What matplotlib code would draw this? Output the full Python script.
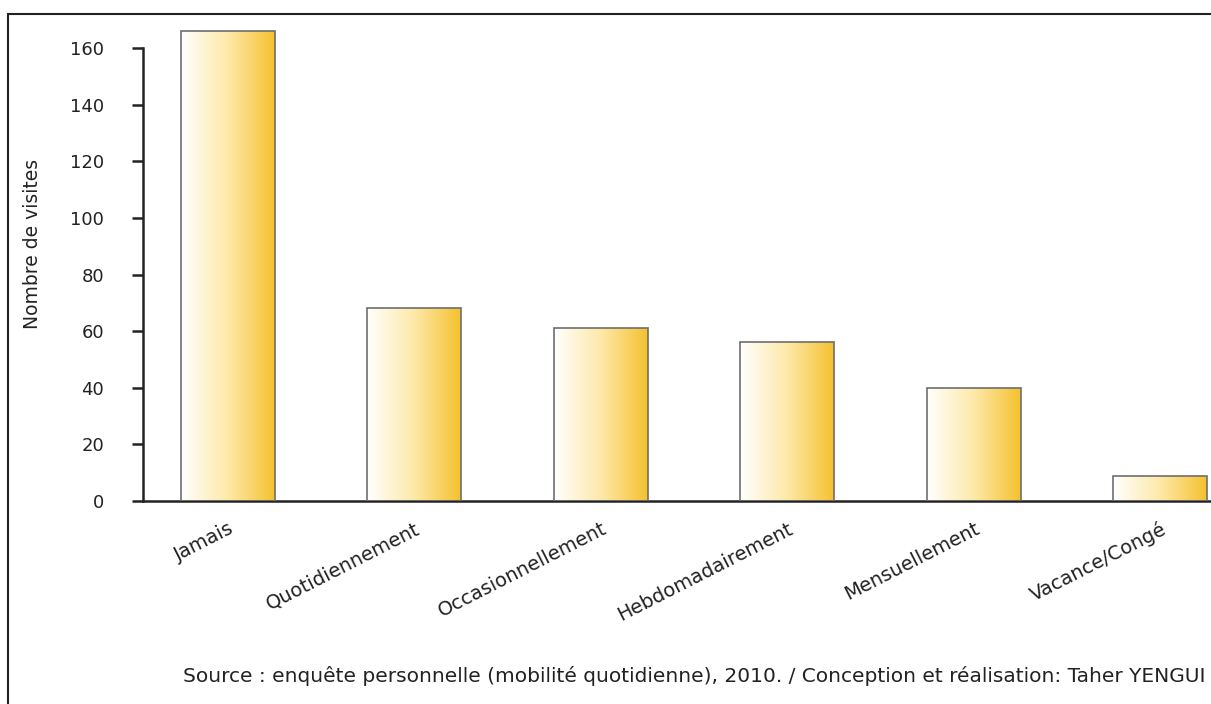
import numpy as np
import matplotlib.pyplot as plt
from matplotlib.patches import Rectangle
from matplotlib.colors import LinearSegmentedColormap

categories = ["Jamais", "Quotidiennement", "Occasionnellement",
              "Hebdomadairement", "Mensuellement", "Vacance/Congé"]
visits = [166, 68, 61, 56, 40, 9]
yticks = [0, 20, 40, 60, 80, 100, 120, 140, 160]
source = ("Source : enquête personnelle (mobilité quotidienne), 2010. / "
          "Conception et réalisation: Taher YENGUI")

plt.rcParams['font.family'] = ['DejaVu Sans']

W, H = 1211, 704
fig = plt.figure(figsize=(W / 100, H / 100), dpi=100)

# outer frame (runs off the right and bottom edges like the scan)
fig.patches.append(Rectangle((8 / W, -0.05), 1.2, 1 - 14 / H + 0.05,
                             transform=fig.transFigure, fill=False,
                             edgecolor="#222222", lw=1.5))

# axes placed in pixels: y axis at x=143, 0 at y=501, 160 at y=48
px_per_cat = 186.5
px_per_unit = 453 / 160
ymax = 175
x0_px = 143
left_cat = (x0_px - 228) / px_per_cat
right_cat = left_cat + 1300 / px_per_cat
ax = fig.add_axes([x0_px / W, (H - 501) / H, 1300 / W, ymax * px_per_unit / H])
ax.patch.set_visible(False)

cmap = LinearSegmentedColormap.from_list("gold", ["#ffffff", "#fde9a8", "#f5c12e"])
grad = np.linspace(0, 1, 256).reshape(1, -1)
x = np.arange(len(categories))
bars = ax.bar(x, visits, width=94 / px_per_cat, color="none",
              edgecolor="#6e6e6e", lw=1.2, zorder=3)
for b in bars:
    bx, by = b.get_x(), b.get_y()
    im = ax.imshow(grad, cmap=cmap, aspect="auto", zorder=2,
                   extent=[bx, bx + b.get_width(), by, by + b.get_height()])
    im.set_clip_path(b)
ax.set_xlim(left_cat, right_cat)
ax.set_ylim(0, ymax)

for s in ["top", "right"]:
    ax.spines[s].set_visible(False)
ax.spines["left"].set_bounds(0, 160)
for s in ["left", "bottom"]:
    ax.spines[s].set_linewidth(1.8)
    ax.spines[s].set_color("#222222")

ax.set_yticks(yticks)
ax.tick_params(axis="y", length=8, width=1.8, labelsize=13, pad=20, colors="#222222")
ax.set_xticks(x)
ax.set_xticklabels(categories, rotation=27, ha="right", rotation_mode="anchor",
                   fontsize=14, color="#222222")
ax.tick_params(axis="x", length=0, pad=13)

fig.text(33 / W, 1 - 244 / H, "Nombre de visites", rotation=90,
         ha="center", va="center", fontsize=13.5, color="#222222")
fig.text(183 / W, 1 - 676 / H, source, ha="left", va="center",
         fontsize=14.5, color="#222222")

fig.savefig("out.png", dpi=100)
